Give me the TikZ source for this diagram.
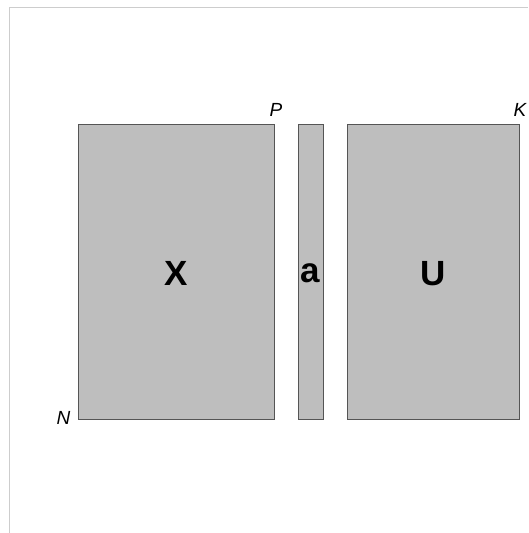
\documentclass[tikz,border=0pt]{standalone}
\usepackage{fontspec}
\setmainfont{Liberation Sans}
\definecolor{matfill}{RGB}{190,190,190}
\definecolor{matedge}{RGB}{85,85,85}
\definecolor{framegray}{RGB}{205,205,205}
\tikzset{
  mat/.style={draw=matedge, fill=matfill, line width=0.8pt, inner sep=0pt},
  matname/.style={font=\fontsize{35}{36}\selectfont\bfseries},
  dimlab/.style={font=\fontsize{19}{20}\selectfont\itshape, inner sep=0pt}
}
\begin{document}
\begin{tikzpicture}[x=1pt, y=-1pt]
  \useasboundingbox (0,0) rectangle (528,533);
  \draw[framegray, line width=1pt] (9,533) -- (9,7) -- (528,7);
  \node[mat, minimum width=196pt, minimum height=295pt] (X) at (176,271.5) {}; \node[matname] at ([yshift=-2pt]X.center) {X};
  \node[mat, minimum width=25pt, minimum height=295pt] (a) at (310.5,271.5) {}; \node[matname] at ([yshift=-2pt]a.center) {a};
  \node[mat, minimum width=172pt, minimum height=295pt] (U) at (433,271.5) {}; \node[matname] at ([yshift=-2pt]U.center) {U};
  \node[dimlab, above right] (P) at ([xshift=-5pt, yshift=7pt]X.north east) {P};
  \node[dimlab, above right] (K) at ([xshift=-6pt, yshift=7pt]U.north east) {K};
  \node[dimlab, left] (N) at ([xshift=-7pt, yshift=1pt]X.south west) {N};
\end{tikzpicture}
\end{document}
